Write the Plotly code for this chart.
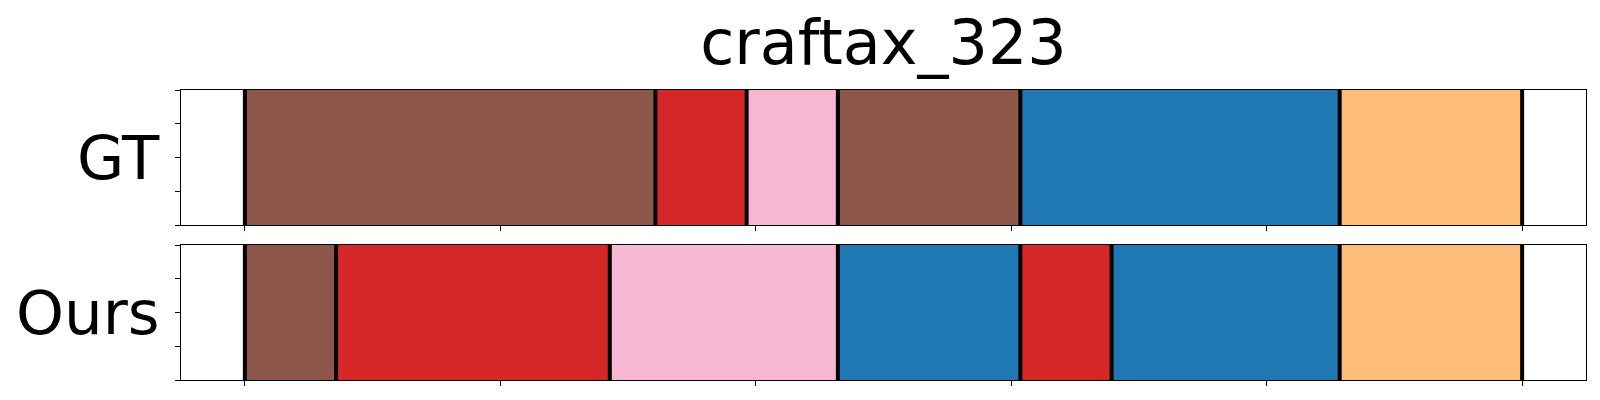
import plotly.graph_objects as go
from plotly.subplots import make_subplots

title_text = "craftax_323"
total_steps = 28
row_names = ["GT", "Ours"]
gt_boundaries = [0, 9, 11, 13, 17, 24, 28]
gt_classes = [10, 6, 13, 10, 0, 3]
ours_boundaries = [0, 2, 8, 13, 17, 19, 24, 28]
ours_classes = [10, 6, 13, 0, 6, 0, 3]
x_ticks = [0, 0.2, 0.4, 0.6, 0.8, 1.0]
y_ticks = [0, 0.25, 0.5, 0.75, 1.0]

tab20 = {0: "#1f77b4", 3: "#ffbb78", 6: "#d62728", 10: "#8c564b", 13: "#f7b6d2"}

W, H = 1600, 400
ml, mr, mt, mb = 181, 14, 90, 20
ph = H - mt - mb
gap = 20
dom_h = (ph - gap) / 2 / ph

fig = make_subplots(rows=2, cols=1, shared_xaxes=False, vertical_spacing=gap / ph)

rows = [(gt_boundaries, gt_classes), (ours_boundaries, ours_classes)]
for r, (bnds, cls) in enumerate(rows, start=1):
    starts = [b / total_steps for b in bnds[:-1]]
    lens = [(bnds[i + 1] - bnds[i]) / total_steps for i in range(len(cls))]
    for s, l, c in zip(starts, lens, cls):
        fig.add_trace(go.Bar(orientation="h", y=[0.5], x=[l], base=[s], width=[1.0],
                             marker=dict(color=tab20[c], line=dict(width=0)),
                             showlegend=False, hoverinfo="skip"), row=r, col=1)
    xs, ys = [], []
    for b in bnds:
        xs += [b / total_steps, b / total_steps, None]
        ys += [0, 1, None]
    fig.add_trace(go.Scatter(x=xs, y=ys, mode="lines", line=dict(color="black", width=4),
                             showlegend=False, hoverinfo="skip", cliponaxis=True), row=r, col=1)

axis_common = dict(showline=True, mirror=True, linecolor="black", linewidth=1.3,
                   ticks="outside", ticklen=5, tickwidth=1.3, tickcolor="black",
                   showticklabels=False, showgrid=False, zeroline=False, automargin=False)
for r in (1, 2):
    fig.update_xaxes(range=[-0.05, 1.05], tickvals=x_ticks, row=r, col=1, **axis_common)
    fig.update_yaxes(range=[0, 1], tickvals=y_ticks, row=r, col=1, **axis_common)

fig.update_layout(yaxis=dict(domain=[1 - dom_h, 1]), yaxis2=dict(domain=[0, dom_h]))

for i, name in enumerate(row_names):
    yref = "y domain" if i == 0 else "y2 domain"
    fig.add_annotation(text=name, xref="paper", x=0, xanchor="right", xshift=-19,
                       yref=yref, y=0.5, yanchor="middle", showarrow=False,
                       font=dict(family="DejaVu Sans", size=61, color="black"))

fig.update_layout(
    width=W, height=H, barmode="overlay",
    margin=dict(l=ml, r=mr, t=mt, b=mb),
    paper_bgcolor="white", plot_bgcolor="white",
    title=dict(text=title_text, x=0.5, xref="paper", xanchor="center",
               y=1 - 42 / H, yref="container", yanchor="middle",
               font=dict(family="DejaVu Sans", size=62, color="black")),
    font=dict(family="DejaVu Sans"),
)

fig.write_html("out.html", config={"displayModeBar": False},
               post_script="document.body.style.margin='0';")
